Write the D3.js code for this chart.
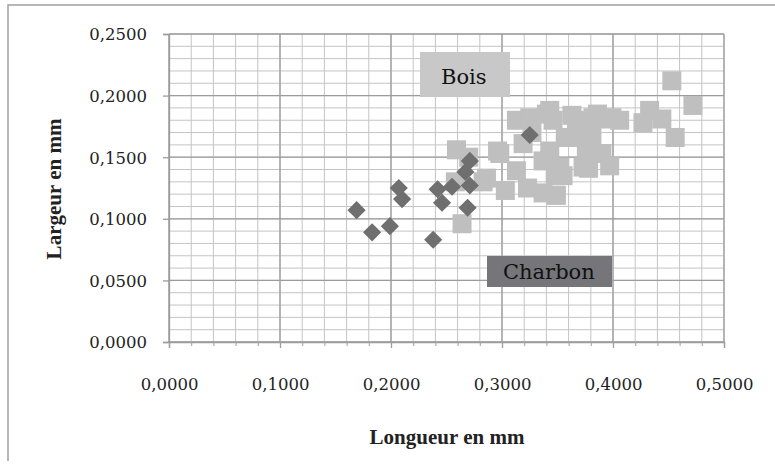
<!DOCTYPE html>
<html><head><meta charset="utf-8">
<script src="https://cdn.jsdelivr.net/npm/d3@7"></script>
<style>html,body{margin:0;padding:0;background:#fff;}svg{display:block;}</style>
</head><body>
<script>
const boisLongueur = [0.259,0.264,0.258,0.270,0.283,0.286,0.296,0.298,0.303,0.313,0.313,0.319,0.323,0.325,0.327,0.337,0.337,0.340,0.343,0.343,0.346,0.348,0.349,0.352,0.355,0.357,0.363,0.367,0.370,0.373,0.376,0.376,0.378,0.381,0.382,0.386,0.390,0.396,0.397,0.399,0.406,0.427,0.433,0.444,0.453,0.456,0.472];
const boisLargeur  = [0.156,0.096,0.130,0.150,0.130,0.133,0.155,0.153,0.123,0.139,0.180,0.161,0.125,0.182,0.170,0.147,0.121,0.185,0.188,0.155,0.180,0.135,0.119,0.142,0.135,0.166,0.184,0.173,0.166,0.142,0.180,0.155,0.141,0.168,0.182,0.185,0.153,0.181,0.143,0.182,0.180,0.178,0.188,0.181,0.212,0.166,0.192];
const charbonLongueur = [0.169,0.183,0.199,0.207,0.210,0.238,0.242,0.246,0.255,0.267,0.271,0.271,0.269,0.325];
const charbonLargeur  = [0.107,0.089,0.094,0.125,0.116,0.083,0.124,0.113,0.126,0.138,0.147,0.127,0.109,0.168];
const xTicks = [0,0.1,0.2,0.3,0.4,0.5];
const yTicks = [0,0.05,0.1,0.15,0.2,0.25];
const seriesNames = ["Bois","Charbon"];

const W = 775, H = 468;
const SERIF = "'DejaVu Serif', 'Liberation Serif', serif";
const svg = d3.select("body").append("svg").attr("width",W).attr("height",H);
const x = d3.scaleLinear().domain([0,0.5]).range([169,724]);
const y = d3.scaleLinear().domain([0,0.25]).range([342,34]);
const fmt = v => d3.format(".4f")(v).replace(".",",");

// outer frame (left + top)
svg.append("path").attr("d","M8,461 L8,5 L775,5").attr("fill","none").attr("stroke","#a0a0a0").attr("stroke-width",1.5);

// minor grid
const xMinor = d3.range(0,0.5001,0.02), yMinor = d3.range(0,0.2501,0.01);
const g = svg.append("g");
g.selectAll("line.xm").data(xMinor).join("line")
  .attr("x1",d=>x(d)).attr("x2",d=>x(d)).attr("y1",y(0.25)).attr("y2",y(0))
  .attr("stroke","#c4c4c4").attr("stroke-width",1);
g.selectAll("line.ym").data(yMinor).join("line")
  .attr("y1",d=>y(d)).attr("y2",d=>y(d)).attr("x1",x(0)).attr("x2",x(0.5))
  .attr("stroke","#c4c4c4").attr("stroke-width",1);
// major grid
g.selectAll("line.xM").data(xTicks).join("line")
  .attr("x1",d=>x(d)).attr("x2",d=>x(d)).attr("y1",y(0.25)).attr("y2",y(0))
  .attr("stroke","#9c9c9c").attr("stroke-width",1.3);
g.selectAll("line.yM").data(yTicks).join("line")
  .attr("y1",d=>y(d)).attr("y2",d=>y(d)).attr("x1",x(0)).attr("x2",x(0.5))
  .attr("stroke","#9c9c9c").attr("stroke-width",1.3);

// axes
const xAxis = svg.append("g").attr("transform",`translate(0,${y(0)})`)
  .call(d3.axisBottom(x).tickValues(xTicks).tickSize(6).tickFormat(fmt));
const xMinorAxis = svg.append("g").attr("transform",`translate(0,${y(0)})`)
  .call(d3.axisBottom(x).tickValues(xMinor).tickSize(4).tickFormat(""));
xMinorAxis.select(".domain").remove();
xMinorAxis.selectAll("line").attr("stroke","#a0a0a0");
const yAxis = svg.append("g").attr("transform",`translate(${x(0)},0)`)
  .call(d3.axisLeft(y).tickValues(yTicks).tickSize(6).tickFormat(fmt));
[xAxis,yAxis].forEach(a=>{
  a.attr("font-family",SERIF);
  a.select(".domain").attr("stroke","#9c9c9c").attr("stroke-width",1.3);
  a.selectAll(".tick line").attr("stroke","#9c9c9c").attr("stroke-width",1.3);
  a.selectAll("text").attr("font-family",SERIF).attr("font-size",16.5).attr("fill","#222");
});
xAxis.selectAll("text").attr("dy",null).attr("y",48);
yAxis.selectAll("text").attr("x",-22).attr("dy","0.36em");

// points
svg.append("g").selectAll("rect").data(boisLongueur).join("rect")
  .attr("x",(d,i)=>x(d)-9.5).attr("y",(d,i)=>y(boisLargeur[i])-9.5)
  .attr("width",19).attr("height",19).attr("fill","#bfbfbf");
svg.append("g").selectAll("path").data(charbonLongueur).join("path")
  .attr("d",d3.symbol().type(d3.symbolSquare).size(165))
  .attr("transform",(d,i)=>`translate(${x(d)},${y(charbonLargeur[i])}) rotate(45)`)
  .attr("fill","#6f6f6f");

// labels
svg.append("rect").attr("x",420).attr("y",52).attr("width",90).attr("height",45).attr("fill","#c8c8c8");
svg.append("text").attr("x",441).attr("y",84).text(seriesNames[0])
  .attr("font-family",SERIF).attr("font-size",21).attr("fill","#111");
svg.append("rect").attr("x",487).attr("y",256).attr("width",125).attr("height",31).attr("fill","#76767a");
svg.append("text").attr("x",503).attr("y",279).text(seriesNames[1])
  .attr("font-family",SERIF).attr("font-size",21).attr("fill","#111");

// titles
svg.append("text").attr("x",447).attr("y",444).attr("text-anchor","middle").text("Longueur en mm")
  .attr("font-family","'Liberation Serif', 'DejaVu Serif', serif").attr("font-weight","bold").attr("font-size",21).attr("fill","#222");
svg.append("text").attr("transform","translate(61,189) rotate(-90)").attr("text-anchor","middle").text("Largeur en mm")
  .attr("font-family","'Liberation Serif', 'DejaVu Serif', serif").attr("font-weight","bold").attr("font-size",21).attr("fill","#222");
</script>
</body></html>
